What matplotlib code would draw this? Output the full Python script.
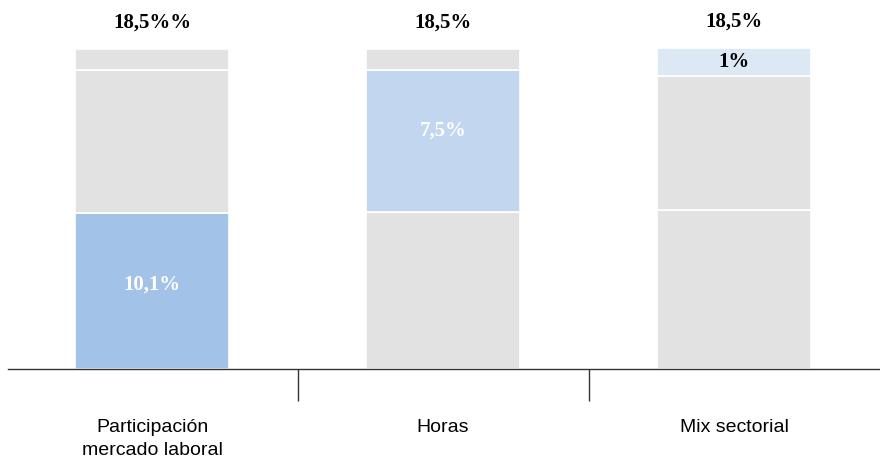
import matplotlib
matplotlib.use("Agg")
import matplotlib.pyplot as plt
import numpy as np

categories = ["Participación\nmercado laboral", "Horas", "Mix sectorial"]
seg_bottom = [9.0, 9.1, 9.2]
seg_middle = [8.3, 8.2, 7.75]
seg_top = [1.2, 1.2, 1.6]
totals_labels = ["18,5%%", "18,5%", "18,5%"]
value_labels = ["10,1%", "7,5%", "1%"]

grey = "#e2e2e2"
col_bottom = ["#a3c2e8", grey, grey]
col_middle = [grey, "#c2d6ef", grey]
col_top = [grey, grey, "#dde8f5"]

fig = plt.figure(figsize=(8.8, 4.61), dpi=100)
ax = fig.add_axes([8/880, 92/461, 872/880, 369/461])
x = np.arange(len(categories))
w = 154/291
ax.bar(x, seg_bottom, w, color=col_bottom, edgecolor="white", linewidth=1.2)
ax.bar(x, seg_middle, w, bottom=seg_bottom, color=col_middle, edgecolor="white", linewidth=1.2)
b2 = np.array(seg_bottom) + np.array(seg_middle)
ax.bar(x, seg_top, w, bottom=b2, color=col_top, edgecolor="white", linewidth=1.2)

ax.set_xlim((8-152)/291, (880-152)/291)
ax.set_ylim(0, 369/17.3)

serif = dict(family="Liberation Serif", fontweight="bold")
fs = 15
tot = b2 + np.array(seg_top)
for i in range(3):
    ax.text(x[i], tot[i] + 1.55, totals_labels[i], ha="center", va="center", fontsize=fs, color="black", **serif)
ax.text(x[0], seg_bottom[0]/2 + 0.4, value_labels[0], ha="center", va="center", fontsize=fs, color="white", **serif)
ax.text(x[1], seg_bottom[1] + seg_middle[1]/2 + 0.6, value_labels[1], ha="center", va="center", fontsize=fs, color="white", **serif)
ax.text(x[2], b2[2] + seg_top[2]/2, value_labels[2], ha="center", va="center", fontsize=fs, color="black", **serif)

for s in ["top", "right", "left"]:
    ax.spines[s].set_visible(False)
ax.spines["bottom"].set_color("#333333")
ax.spines["bottom"].set_linewidth(1.0)
ax.set_yticks([])
ax.set_xticks(x)
ax.set_xticklabels(categories, fontsize=14, family="Liberation Sans", linespacing=1.45, color="black")
ax.tick_params(axis="x", which="major", length=0, pad=36)
ax.set_xticks([0.5, 1.5], minor=True)
ax.tick_params(axis="x", which="minor", length=23, width=1.0, color="#333333", direction="out")

fig.savefig("out.png", dpi=100)
